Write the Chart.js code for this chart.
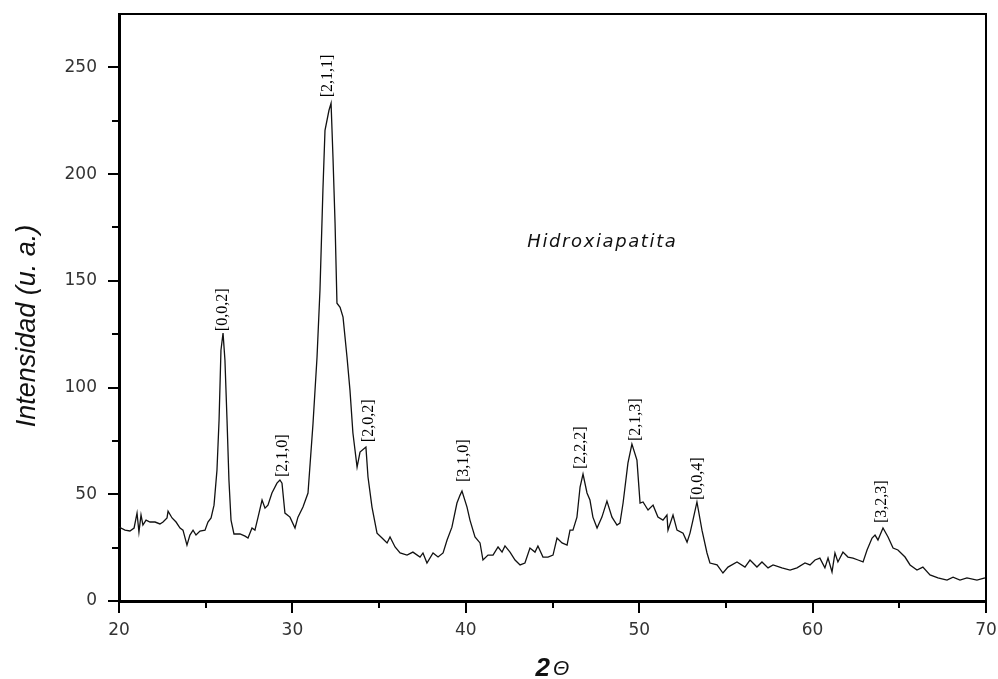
<!DOCTYPE html>
<html>
<head>
<meta charset="utf-8">
<script src="https://cdn.jsdelivr.net/npm/chart.js@4/dist/chart.umd.min.js"></script>
<style>
  html, body { margin: 0; padding: 0; background: #fff; }
  #wrap { width: 998px; height: 679px; }
</style>
</head>
<body>
<div id="wrap"><canvas id="xrd" width="998" height="679"></canvas></div>
<script>
// diffractogram trace
const twoTheta = [
  20.00, 20.35, 20.63, 20.87, 21.04, 21.15, 21.27, 21.38, 21.56, 21.79, 22.08, 22.36, 22.54, 22.77, 22.83,
  23.06, 23.29, 23.52, 23.69, 23.92, 24.09, 24.27, 24.44, 24.67, 24.96, 25.13, 25.31, 25.48, 25.65, 25.77,
  25.88, 26.00, 26.11, 26.23, 26.34, 26.46, 26.63, 26.98, 27.27, 27.44, 27.67, 27.84, 28.02, 28.25, 28.42,
  28.59, 28.82, 29.11, 29.28, 29.40, 29.57, 29.86, 30.15, 30.32, 30.61, 30.90, 31.19, 31.42, 31.59, 31.76,
  31.88, 32.11, 32.23, 32.34, 32.46, 32.57, 32.75, 32.92, 33.15, 33.32, 33.49, 33.73, 33.90, 34.24, 34.36,
  34.59, 34.88, 35.17, 35.46, 35.63, 35.92, 36.21, 36.61, 36.95, 37.36, 37.53, 37.76, 38.11, 38.40, 38.69,
  38.92, 39.20, 39.49, 39.67, 39.78, 40.07, 40.24, 40.53, 40.82, 40.99, 41.28, 41.57, 41.86, 42.09, 42.26,
  42.55, 42.84, 43.13, 43.41, 43.70, 43.99, 44.16, 44.45, 44.74, 45.03, 45.26, 45.55, 45.84, 46.01, 46.18,
  46.41, 46.59, 46.76, 46.99, 47.16, 47.33, 47.57, 47.85, 48.14, 48.43, 48.72, 48.89, 49.07, 49.35, 49.58,
  49.87, 50.05, 50.22, 50.51, 50.80, 51.08, 51.37, 51.60, 51.66, 51.95, 52.18, 52.53, 52.76, 52.93, 53.10,
  53.33, 53.62, 53.91, 54.08, 54.49, 54.83, 55.12, 55.64, 56.10, 56.39, 56.79, 57.08, 57.43, 57.72, 58.23,
  58.70, 59.10, 59.56, 59.85, 60.14, 60.42, 60.71, 60.89, 61.12, 61.29, 61.46, 61.75, 62.04, 62.33, 62.62,
  62.91, 63.14, 63.43, 63.60, 63.77, 64.06, 64.35, 64.64, 64.92, 65.33, 65.62, 66.02, 66.36, 66.77, 67.23,
  67.75, 68.10, 68.50, 68.90, 69.48, 69.94
]
const intensity = [
  34.6, 33.2, 32.8, 34.2, 41.2, 32.3, 40.3, 35.6, 37.9, 37.0, 37.0, 36.1, 37.0, 38.9, 42.1,
  38.9, 37.0, 34.2, 33.2, 26.2, 30.9, 33.2, 30.9, 32.8, 33.2, 37.0, 38.9, 44.9, 61.3, 84.7,
  117.5, 125.5, 112.8, 84.7, 56.7, 37.9, 31.4, 31.4, 30.4, 29.5, 34.2, 33.2, 39.3, 47.3, 43.5,
  44.9, 50.6, 55.2, 56.7, 55.2, 41.2, 39.3, 34.2, 39.3, 44.0, 50.6, 83.3, 114.2, 145.6, 192.4,
  220.5, 229.9, 233.2, 207.9, 177.0, 139.5, 137.6, 133.0, 114.2, 98.8, 78.7, 62.7, 69.8, 72.1, 58.1,
  44.0, 31.8, 29.5, 27.2, 30.0, 25.3, 22.5, 21.5, 22.9, 20.6, 22.5, 17.8, 22.5, 20.6, 22.5,
  28.6, 34.6, 45.9, 49.6, 51.5, 44.0, 37.9, 30.0, 27.2, 19.2, 21.5, 21.5, 25.3, 22.9, 25.8,
  22.9, 19.2, 16.9, 17.8, 24.8, 22.9, 25.8, 20.6, 20.6, 21.5, 29.5, 27.2, 26.2, 33.2, 33.2,
  39.3, 53.4, 59.5, 50.6, 47.3, 39.3, 34.2, 39.3, 46.8, 39.3, 35.6, 36.5, 45.9, 64.6, 73.5,
  66.0, 45.9, 46.4, 42.6, 44.9, 39.3, 37.9, 40.3, 33.2, 40.3, 33.2, 31.8, 27.6, 31.8, 37.9,
  46.4, 33.2, 22.5, 17.8, 16.9, 13.1, 15.9, 18.3, 15.9, 19.2, 15.9, 18.3, 15.5, 16.9, 15.5,
  14.5, 15.5, 17.8, 16.9, 19.2, 20.1, 15.5, 20.1, 13.6, 22.5, 18.3, 22.9, 20.6, 20.1, 19.2,
  18.3, 23.9, 29.5, 30.9, 28.6, 34.2, 30.0, 24.8, 23.9, 20.6, 16.9, 14.5, 15.9, 12.2, 10.8,
  9.8, 11.2, 9.8, 10.8, 9.8, 10.8
]

// Miller indices and where each label starts (2θ, intensity)
const peakLabels = ['[0,0,2]', '[2,1,0]', '[2,1,1]', '[2,0,2]', '[3,1,0]', '[2,2,2]', '[2,1,3]', '[0,0,4]', '[3,2,3]']
const labelTheta = [26.0, 29.46, 32.05, 34.4, 39.9, 46.65, 49.82, 53.37, 64.0]
const labelIntensity = [126.4, 58.1, 236.0, 74.4, 55.7, 61.8, 74.9, 47.3, 36.5]

const xTicks = [20, 30, 40, 50, 60, 70]
const yTicks = [0, 50, 100, 150, 200, 250]
const xMinor = [25, 35, 45, 55, 65]
const yMinor = [25, 75, 125, 175, 225]

const sampleName = 'Hidroxiapatita'
const yTitle = 'Intensidad (u. a.)'

const decorations = {
  id: 'decorations',
  afterDraw(chart) {
    const { ctx, chartArea: a, scales: { x, y } } = chart
    ctx.save()

    // top and right frame
    ctx.strokeStyle = '#000'
    ctx.lineWidth = 2
    ctx.beginPath()
    ctx.moveTo(a.left, a.top)
    ctx.lineTo(a.right, a.top)
    ctx.lineTo(a.right, a.bottom)
    ctx.stroke()

    // minor ticks
    ctx.lineWidth = 2
    ctx.beginPath()
    xMinor.forEach(v => {
      const px = Math.round(x.getPixelForValue(v))
      ctx.moveTo(px, a.bottom)
      ctx.lineTo(px, a.bottom + 7)
    })
    yMinor.forEach(v => {
      const py = Math.round(y.getPixelForValue(v))
      ctx.moveTo(a.left, py)
      ctx.lineTo(a.left - 7, py)
    })
    ctx.stroke()

    // peak labels
    ctx.fillStyle = '#000'
    ctx.font = '16px "Liberation Serif", serif'
    ctx.textAlign = 'left'
    ctx.textBaseline = 'middle'
    peakLabels.forEach((txt, i) => {
      const px = x.getPixelForValue(labelTheta[i])
      const py = y.getPixelForValue(labelIntensity[i])
      ctx.save()
      ctx.translate(px, py)
      ctx.rotate(-Math.PI / 2)
      ctx.fillText(txt, 0, 0)
      ctx.restore()
    })

    // sample name
    ctx.font = 'italic 18px "DejaVu Sans", sans-serif'
    ctx.letterSpacing = '1.6px'
    ctx.textAlign = 'left'
    ctx.textBaseline = 'alphabetic'
    ctx.fillStyle = '#111'
    ctx.fillText(sampleName, x.getPixelForValue(43.55), y.getPixelForValue(166))
    ctx.letterSpacing = '0px'

    // y axis title
    ctx.save()
    ctx.translate(27, 326)
    ctx.rotate(-Math.PI / 2)
    ctx.font = 'italic 27px "Liberation Sans", Arial, sans-serif'
    ctx.textAlign = 'center'
    ctx.textBaseline = 'middle'
    ctx.fillText(yTitle, 0, 0)
    ctx.restore()

    // x axis title: bold 2 + theta
    const cx = (a.left + a.right) / 2
    ctx.textBaseline = 'alphabetic'
    ctx.font = 'italic bold 26px "Liberation Sans", Arial, sans-serif'
    const w2 = ctx.measureText('2').width
    ctx.font = 'italic 21px "Liberation Sans", Arial, sans-serif'
    const wT = ctx.measureText('Θ').width
    const start = cx - (w2 + 3 + wT) / 2
    ctx.font = 'italic bold 26px "Liberation Sans", Arial, sans-serif'
    ctx.textAlign = 'left'
    ctx.fillText('2', start, 676)
    ctx.font = 'italic 21px "Liberation Sans", Arial, sans-serif'
    ctx.fillText('Θ', start + w2 + 3, 675)

    ctx.restore()
  }
}

new Chart(document.getElementById('xrd'), {
  type: 'line',
  data: {
    datasets: [{
      data: twoTheta.map((t, i) => ({ x: t, y: intensity[i] })),
      borderColor: '#111',
      borderWidth: 1.3,
      pointRadius: 0,
      tension: 0,
      fill: false
    }]
  },
  options: {
    responsive: false,
    animation: false,
    layout: { padding: { left: 0, top: 14, right: 12, bottom: 0 } },
    plugins: {
      legend: { display: false },
      tooltip: { enabled: false }
    },
    scales: {
      x: {
        type: 'linear',
        min: 20,
        max: 70,
        afterFit: (s) => { s.height = 78; s.paddingLeft = 0; s.paddingRight = 0 },
        afterBuildTicks: (s) => { s.ticks = xTicks.map(v => ({ value: v })) },
        border: { display: true, color: '#000', width: 3 },
        grid: { drawOnChartArea: false, drawTicks: true, tickLength: 12, color: '#000', lineWidth: 2 },
        ticks: {
          padding: 7,
          color: '#333',
          font: { family: '"DejaVu Sans", sans-serif', size: 17 },
          maxRotation: 0
        }
      },
      y: {
        min: 0,
        max: 275,
        afterFit: (s) => { s.width = 119; s.paddingTop = 0; s.paddingBottom = 0 },
        afterBuildTicks: (s) => { s.ticks = yTicks.map(v => ({ value: v })) },
        border: { display: true, color: '#000', width: 3 },
        grid: { drawOnChartArea: false, drawTicks: true, tickLength: 11, color: '#000', lineWidth: 2 },
        ticks: {
          padding: 11,
          color: '#333',
          font: { family: '"DejaVu Sans", sans-serif', size: 17 }
        }
      }
    }
  },
  plugins: [decorations]
})
</script>
</body>
</html>
